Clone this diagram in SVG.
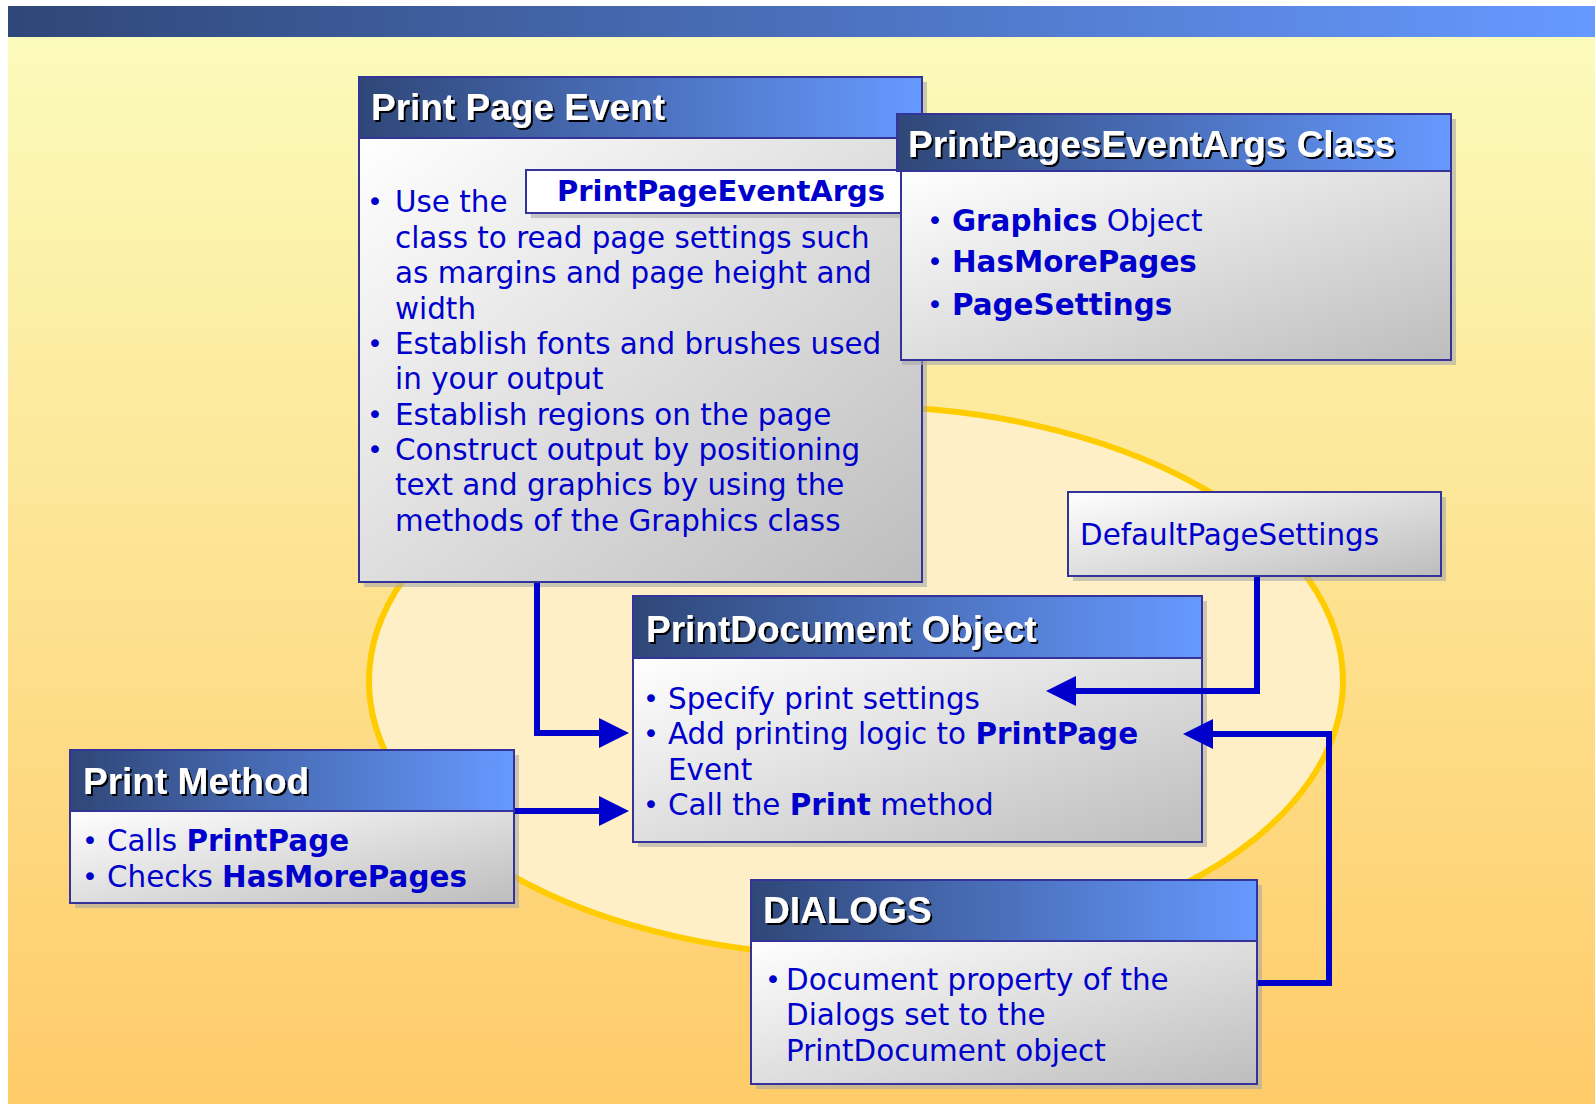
<svg xmlns="http://www.w3.org/2000/svg" width="1595" height="1104" viewBox="0 0 1595 1104">
<defs>
<linearGradient id="bg" x1="0" y1="0" x2="0" y2="1">
<stop offset="0" stop-color="#FBFBBB"/>
<stop offset="1" stop-color="#FFCB69"/>
</linearGradient>
<linearGradient id="hdr" x1="0" y1="0" x2="1" y2="0">
<stop offset="0" stop-color="#2F4778"/>
<stop offset="1" stop-color="#6699FF"/>
</linearGradient>
<linearGradient id="bdy" x1="0" y1="0" x2="1" y2="1">
<stop offset="0" stop-color="#FFFFFF"/>
<stop offset="1" stop-color="#BDBDBD"/>
</linearGradient>
<filter id="ts" x="-5%" y="-20%" width="110%" height="140%">
<feDropShadow dx="2" dy="2" stdDeviation="0" flood-color="#000" flood-opacity="1"/>
</filter>
<marker id="ah" markerUnits="userSpaceOnUse" markerWidth="31" markerHeight="30" refX="0" refY="15" orient="auto">
<path d="M0,0 L30,15 L0,30 z" fill="#0000CC"/>
</marker>
</defs>
<style>
.hdr{fill:url(#hdr);stroke:#333399;stroke-width:2}
.bdy{fill:url(#bdy);stroke:#333399;stroke-width:2}
.lbl{fill:#FFFFFF;stroke:#333399;stroke-width:2}
.sh{fill:#A8A8A8;opacity:0.6}
.ht{font-family:"Liberation Sans",Arial,sans-serif;font-weight:bold;font-size:37px;fill:#FFFFFF;filter:url(#ts)}
.bt{font-family:"DejaVu Sans",Verdana,sans-serif;font-size:29.4px;fill:#0000CC}
.bu{font-family:"DejaVu Sans",Verdana,sans-serif;font-size:27px;fill:#0000CC}
.b{font-weight:bold}
.con{fill:none;stroke:#0000CC;stroke-width:6;stroke-linejoin:miter}
</style>
<rect x="0" y="0" width="1595" height="1104" fill="#FFFFFF"/>
<rect x="8" y="37" width="1587" height="1067" fill="url(#bg)"/>
<rect x="8" y="6" width="1587" height="31" fill="url(#hdr)"/>
<ellipse cx="856" cy="681" rx="487" ry="275" fill="#FFEFC6" stroke="#FFCC00" stroke-width="6"/>

<g id="print-page-event">
<rect class="sh" x="364" y="82" width="563" height="505"/>
<rect class="hdr" x="359" y="77" width="563" height="61"/>
<rect class="bdy" x="359" y="138" width="563" height="444"/>
<text class="ht" x="371" y="120">Print Page Event</text>
<text class="bu">
<tspan x="367" y="211">•</tspan>
<tspan x="367" y="353">•</tspan>
<tspan x="367" y="424">•</tspan>
<tspan x="367" y="459">•</tspan>
</text>
<text class="bt">
<tspan x="395" y="212">Use the</tspan>
<tspan x="395" y="248">class to read page settings such</tspan>
<tspan x="395" y="283">as margins and page height and</tspan>
<tspan x="395" y="319">width</tspan>
<tspan x="395" y="354">Establish fonts and brushes used</tspan>
<tspan x="395" y="389">in your output</tspan>
<tspan x="395" y="425">Establish regions on the page</tspan>
<tspan x="395" y="460">Construct output by positioning</tspan>
<tspan x="395" y="495">text and graphics by using the</tspan>
<tspan x="395" y="531">methods of the Graphics class</tspan>
</text>
</g>

<g id="printpageeventargs-label">
<rect class="sh" x="531" y="175" width="376" height="43"/>
<rect class="lbl" x="526" y="170" width="376" height="43"/>
<text class="bt b" x="557" y="201" style="font-size:29px">PrintPageEventArgs</text>
</g>

<g id="printpageseventargs-class">
<rect class="sh" x="902" y="119" width="554" height="246"/>
<rect class="hdr" x="897" y="114" width="554" height="57"/>
<rect class="bdy" x="901" y="171" width="550" height="189"/>
<text class="ht" x="908" y="157">PrintPagesEventArgs Class</text>
<text class="bu">
<tspan x="927" y="230">•</tspan>
<tspan x="927" y="271">•</tspan>
<tspan x="927" y="314">•</tspan>
</text>
<text class="bt">
<tspan x="952" y="231" class="b">Graphics</tspan><tspan> Object</tspan>
<tspan x="952" y="272" class="b">HasMorePages</tspan>
<tspan x="952" y="315" class="b">PageSettings</tspan>
</text>
</g>

<g id="default-page-settings">
<rect class="sh" x="1073" y="497" width="373" height="84"/>
<rect class="bdy" x="1068" y="492" width="373" height="84"/>
<text class="bt" x="1080" y="545">DefaultPageSettings</text>
</g>

<g id="printdocument-object">
<rect class="sh" x="638" y="601" width="569" height="246"/>
<rect class="hdr" x="633" y="596" width="569" height="62"/>
<rect class="bdy" x="633" y="658" width="569" height="184"/>
<text class="ht" x="646" y="642">PrintDocument Object</text>
<text class="bu">
<tspan x="643" y="708">•</tspan>
<tspan x="643" y="743">•</tspan>
<tspan x="643" y="814">•</tspan>
</text>
<text class="bt">
<tspan x="668" y="709">Specify print settings</tspan>
<tspan x="668" y="744">Add printing logic to </tspan><tspan class="b">PrintPage</tspan>
<tspan x="668" y="780">Event</tspan>
<tspan x="668" y="815">Call the </tspan><tspan class="b">Print</tspan><tspan> method</tspan>
</text>
</g>

<g id="print-method">
<rect class="sh" x="75" y="755" width="444" height="153"/>
<rect class="hdr" x="70" y="750" width="444" height="61"/>
<rect class="bdy" x="70" y="811" width="444" height="92"/>
<text class="ht" x="83" y="794">Print Method</text>
<text class="bu">
<tspan x="82" y="850">•</tspan>
<tspan x="82" y="886">•</tspan>
</text>
<text class="bt">
<tspan x="107" y="851">Calls </tspan><tspan class="b">PrintPage</tspan>
<tspan x="107" y="887">Checks </tspan><tspan class="b">HasMorePages</tspan>
</text>
</g>

<g id="dialogs">
<rect class="sh" x="756" y="885" width="506" height="204"/>
<rect class="hdr" x="751" y="880" width="506" height="61"/>
<rect class="bdy" x="751" y="941" width="506" height="143"/>
<text class="ht" x="763" y="923">DIALOGS</text>
<text class="bu"><tspan x="765" y="989">•</tspan></text>
<text class="bt">
<tspan x="786" y="990">Document property of the</tspan>
<tspan x="786" y="1025">Dialogs set to the</tspan>
<tspan x="786" y="1061">PrintDocument object</tspan>
</text>
</g>

<g id="connectors">
<path class="con" d="M537,583 V733 H599" marker-end="url(#ah)"/>
<path class="con" d="M515,811 H599" marker-end="url(#ah)"/>
<path class="con" d="M1257,577 V691 H1076" marker-end="url(#ah)"/>
<path class="con" d="M1258,983 H1329 V734 H1213" marker-end="url(#ah)"/>
</g>
</svg>
